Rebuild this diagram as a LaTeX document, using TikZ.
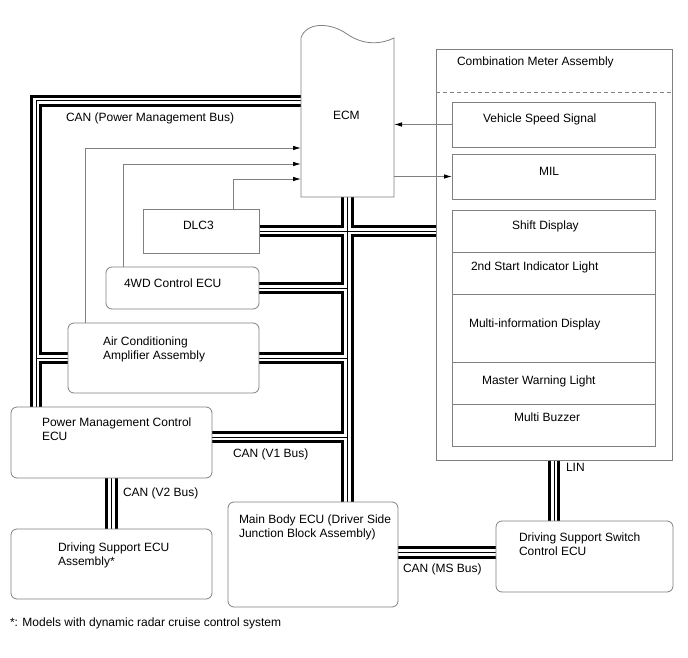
\documentclass[tikz,border=0pt]{standalone}
\usepackage{fontspec}
\setmainfont{Liberation Sans}
\usetikzlibrary{positioning,arrows.meta,backgrounds}

\begin{document}
\begin{tikzpicture}[
          x=1pt, y=-1pt,
          font=\fontsize{12}{14}\selectfont,
          box/.style={draw=black!50,line width=.8pt,inner sep=0pt,outer sep=0pt,anchor=north west},
          rbox/.style={box,rounded corners=6pt},
          row/.style={box,anchor=north,minimum width=203pt,minimum height=42pt},
          txt/.style={inner sep=0pt,outer sep=0pt,align=left,anchor=north west},
          sig/.style={draw=black!50,line width=.8pt,-{Latex[length=8pt,width=4.5pt,color=black]}}
            ]
    \useasboundingbox (0,0) rectangle (688,658);

    % ECM and combination meter
    \node[box,draw=none,minimum width=93pt,minimum height=159pt] (ecm) at (301,38) {};
    \draw[draw=black!50,line width=.8pt] (ecm.south west) -- (ecm.north west)
      .. controls (306,22) and (330,22) .. (347,34)
      .. controls (364,46) and (382,44) .. (ecm.north east) -- (ecm.south east) -- cycle;
    \node[box,minimum width=236pt,minimum height=411pt] (meter) at (436,49) {};
    \draw[draw=black!50,line width=.8pt,dash pattern=on 4pt off 3pt]
      (meter.west |- 0,92) -- (meter.east |- 0,92);
    \node[box,minimum width=203pt,minimum height=45pt] (vss) at (452,102) {};
    \node[box,minimum width=203pt,minimum height=45pt] (mil) at (452,154) {};
    \node[box,minimum width=203pt,minimum height=42pt] (shift) at (452,210) {};
    \node[row,below=0pt of shift] (start2) {};
    \node[row,below=0pt of start2,minimum height=68pt] (mid) {};
    \node[row,below=0pt of mid] (mwl) {};
    \node[row,below=0pt of mwl] (buzz) {};

    % ECUs
    \node[box,minimum width=116pt,minimum height=44pt] (dlc) at (143,209) {};
    \node[rbox,minimum width=153pt,minimum height=42pt] (wd) at (106,267) {};
    \node[rbox,minimum width=191pt,minimum height=70pt] (ac) at (68,323) {};
    \node[rbox,minimum width=201pt,minimum height=71pt] (pmc) at (11,407) {};
    \node[rbox,minimum width=201pt,minimum height=70pt] (dse) at (11,529) {};
    \node[rbox,minimum width=170pt,minimum height=105pt] (mbe) at (228,502) {};
    \node[rbox,minimum width=177pt,minimum height=71pt] (dss) at (496,521) {};

    % bus lines
    \coordinate (pmtop) at (36,101);
    \begin{scope}[on background layer]
    \foreach \w/\col in {12.5pt/black,6.5pt/white,1pt/black}
      \draw[line width=\w,draw=\col]
        (ecm.west |- pmtop) -- (pmtop) -- (pmtop |- pmc.north)
        (pmtop |- ac.west) -- (ac.west)
        (ecm.south) -- (ecm.south |- mbe.north)
        (dlc.east) -- (dlc.east -| meter.west)
        (wd.east) -- (wd.east -| ecm.south)
        (ac.east) -- (ac.east -| ecm.south)
        ([yshift=5.5pt]pmc.east) -- ([yshift=5.5pt]pmc.east -| ecm.south)
        (pmc.south) -- (dse.north)
        ([yshift=2pt]mbe.east) -- ([yshift=2pt]mbe.east -| dss.west)
        (meter.south) -- (meter.south |- dss.north);
    \end{scope}

    % signal lines
    \draw[sig] (vss.west) -- (vss.west -| ecm.east);
    \draw[sig] (ecm.east |- mil.west) -- (mil.west);
    \draw[sig] ([xshift=17pt]ac.north west) |- ([yshift=-30.5pt]ecm.west);
    \draw[sig] ([xshift=17pt]wd.north west) |- ([yshift=-46.5pt]ecm.west);
    \draw[sig] ([xshift=-26pt]dlc.north east) |- ([yshift=-61.5pt]ecm.west);

    % texts
    \node[txt,below right=72.7pt and 32pt of ecm.north west] (ecmt) {ECM};
    \node[txt,below right=7.7pt and 21pt of meter.north west] (metert) {Combination Meter Assembly};
    \node[txt,below right=11.7pt and 31pt of vss.north west] (vsst) {Vehicle Speed Signal};
    \node[txt,below right=13.7pt and 87pt of mil.north west] (milt) {MIL};
    \node[txt,below right=10.7pt and 60pt of shift.north west] (shiftt) {Shift Display};
    \node[txt,below right=9.7pt and 19pt of start2.north west] (start2t) {2nd Start Indicator Light};
    \node[txt,below right=24.7pt and 17pt of mid.north west] (midt) {Multi-information Display};
    \node[txt,below right=13.7pt and 30pt of mwl.north west] (mwlt) {Master Warning Light};
    \node[txt,below right=8.7pt and 62pt of buzz.north west] (buzzt) {Multi Buzzer};
    \node[txt,below right=11.7pt and 40pt of dlc.north west] (dlct) {DLC3};
    \node[txt,below right=11.7pt and 18pt of wd.north west] (wdt) {4WD Control ECU};
    \node[txt,below right=13.7pt and 35pt of ac.north west] (act) {Air Conditioning\\Amplifier Assembly};
    \node[txt,below right=10.7pt and 31pt of pmc.north west] (pmct) {Power Management Control\\ECU};
    \node[txt,below right=13.7pt and 47pt of dse.north west] (dset) {Driving Support ECU\\Assembly*};
    \node[txt,below right=12.7pt and 11pt of mbe.north west] (mbet) {Main Body ECU (Driver Side\\Junction Block Assembly)};
    \node[txt,below right=11.7pt and 23pt of dss.north west] (dsst) {Driving Support Switch\\Control ECU};
    \node[txt,below right=11.7pt and 30pt of pmtop] (pmbus) {CAN (Power Management Bus)};
    \node[txt,below right=6.2pt and 21pt of pmc.east] (v1bus) {CAN (V1 Bus)};
    \node[txt,below right=9.7pt and 11.5pt of pmc.south] (v2bus) {CAN (V2 Bus)};
    \node[txt,below right=9.2pt and 5pt of mbe.east] (msbus) {CAN (MS Bus)};
    \node[txt,below right=3.7pt and 12pt of meter.south] (lin) {LIN};
    \node[txt] (note) at (10,617.7) {*: Models with dynamic radar cruise control system};
\end{tikzpicture}
\end{document}
